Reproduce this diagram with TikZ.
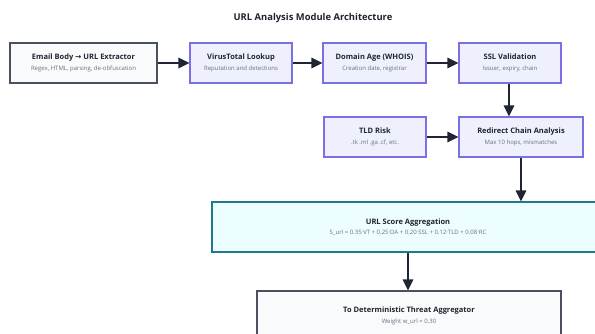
\documentclass[tikz,border=0pt]{standalone}
\usepackage{fontspec}
\setmainfont{Open Sans}
\newfontfamily\symfont{DejaVu Sans}
\usetikzlibrary{arrows.meta,positioning}

\definecolor{inkdark}{HTML}{1F2430}
\definecolor{subgray}{HTML}{6B7080}
\definecolor{edgedark}{HTML}{4A505E}
\definecolor{fillpale}{HTML}{F8FAFC}
\definecolor{edgeviolet}{HTML}{7A6FE4}
\definecolor{fillviolet}{HTML}{EEF0FD}
\definecolor{edgeteal}{HTML}{1E7A8C}
\definecolor{fillteal}{HTML}{ECFEFF}
\definecolor{arrowink}{HTML}{1F2533}

\tikzset{
  x=1pt, y=-1pt,
  basebox/.style={rectangle, line width=1.1pt, align=center, inner sep=0pt,
    text=inkdark, font=\fontsize{7.5}{9}\selectfont\bfseries},
  sourcebox/.style={basebox, draw=edgedark, fill=fillpale},
  stagebox/.style={basebox, draw=edgeviolet, fill=fillviolet},
  aggbox/.style={basebox, draw=edgeteal, fill=fillteal},
  outbox/.style={basebox, draw=edgedark, fill=fillpale},
  flow/.style={draw=arrowink, line width=1.3pt,
    -{Triangle[length=11pt,width=10.5pt]}},
}
\newcommand{\subline}[1]{\\[1.6pt]{\fontsize{6}{7}\selectfont\mdseries\color{subgray}#1}}

\begin{document}
\begin{tikzpicture}
  \clip (0,0) rectangle (595,334);
  \fill[white] (0,0) rectangle (595,334);

  \node[font=\fontsize{9.4}{11}\selectfont\bfseries, text=inkdark] (title) at (313,18)
    {URL Analysis Module Architecture};

  % first row: extraction and lookups
  \node[sourcebox, minimum width=147pt, minimum height=40pt] (extract) at (83.5,63)
    {Email Body {\symfont →} URL Extractor\subline{Regex, HTML, parsing, de-obfuscation}};
  \node[stagebox, minimum width=102pt, minimum height=40pt] (vt) at (241,63)
    {VirusTotal Lookup\subline{Reputation and detections}};
  \node[stagebox, minimum width=103pt, minimum height=40pt] (whois) at (374.5,63)
    {Domain Age (WHOIS)\subline{Creation date, registrar}};
  \node[stagebox, minimum width=102pt, minimum height=40pt] (ssl) at (510,63)
    {SSL Validation\subline{Issuer, expiry, chain}};

  % second row
  \node[stagebox, minimum width=102pt, minimum height=40pt] (tld) at (375,137)
    {TLD Risk\subline{.tk .ml .ga .cf, etc.}};
  \node[stagebox, minimum width=124pt, minimum height=40pt] (redirect) at (521,137)
    {Redirect Chain Analysis\subline{Max 10 hops, mismatches}};

  % aggregation and output
  \node[aggbox, minimum width=392pt, minimum height=50pt] (score) at (408,227)
    {URL Score Aggregation\subline{S\_url = 0.35·VT + 0.25·DA + 0.20·SSL + 0.12·TLD + 0.08·RC}};
  \node[outbox, minimum width=304pt, minimum height=50pt] (final) at (409,316)
    {To Deterministic Threat Aggregator\subline{Weight w\_url = 0.30}};

  % connectors
  \draw[flow] (extract) -- (vt);
  \draw[flow] (vt) -- (whois);
  \draw[flow] (whois) -- (ssl);
  \draw[flow] ([xshift=-1pt]ssl.south) -- ([xshift=-1pt]ssl.south |- redirect.north);
  \draw[flow] (tld) -- (redirect);
  \draw[flow] (redirect.south) -- (redirect.south |- score.north);
  \draw[flow] ([xshift=-1pt]final.north |- score.south) -- ([xshift=-1pt]final.north);
\end{tikzpicture}
\end{document}
